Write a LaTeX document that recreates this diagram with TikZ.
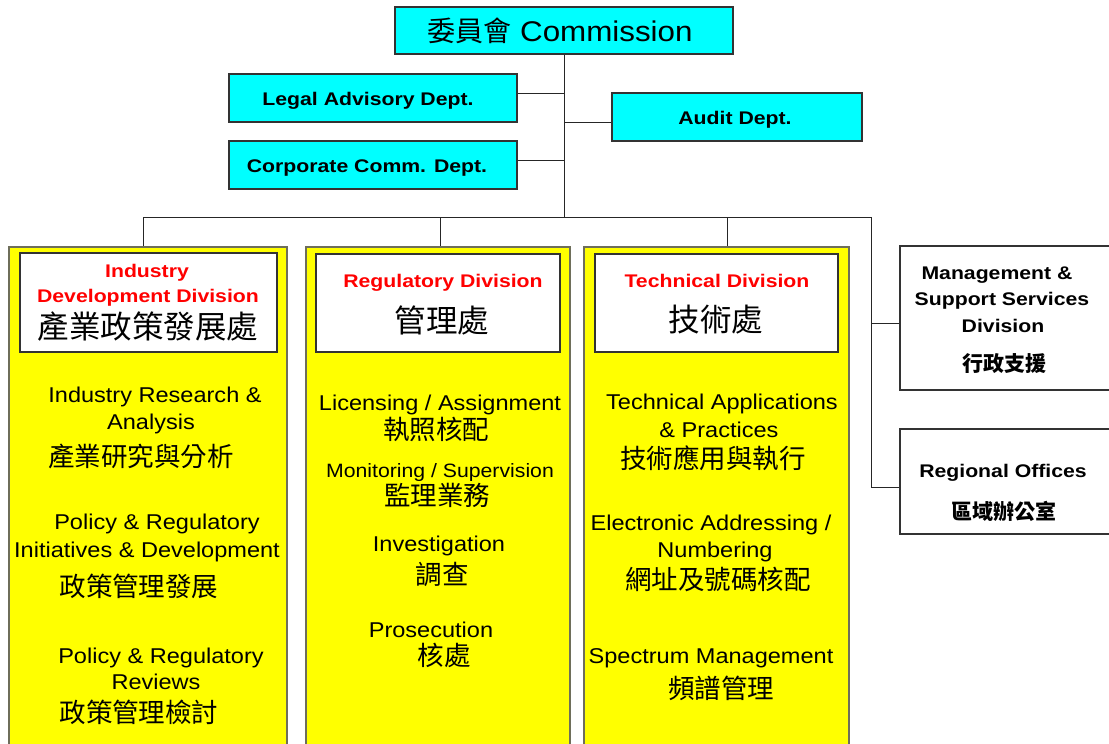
\documentclass[tikz,border=0pt]{standalone}
\usepackage{fontspec}
\setmainfont{Liberation Sans}[FakeStretch=1.1, BoldFeatures={FakeStretch=1.16}]
\newfontfamily\cjk{Noto Sans CJK TC}
\definecolor{edge}{RGB}{51,51,51}
\definecolor{ybord}{RGB}{110,110,90}
\definecolor{cy}{RGB}{0,255,255}
\definecolor{ye}{RGB}{255,255,0}
\definecolor{rd}{RGB}{255,0,0}
\begin{document}
\begin{tikzpicture}[x=1pt,y=-1pt,
  cbox/.style={draw=edge, fill=cy, line width=1.1pt, inner sep=0},
  ybox/.style={draw=ybord, fill=ye, line width=1.3pt, inner sep=0},
  wbox/.style={draw=edge, fill=white, line width=1.1pt, inner sep=0},
  gbox/.style={draw=edge, fill=white, line width=1.1pt, inner sep=0},
  conn/.style={draw=black!85, line width=1pt},
  lt/.style={anchor=base, inner sep=0, font=\fontsize{21.4pt}{24pt}\selectfont},
  lts/.style={anchor=base, inner sep=0, font=\fontsize{19.3pt}{22pt}\selectfont},
  ck/.style={anchor=center, inner sep=0, font=\cjk\fontsize{26.5pt}{30pt}\selectfont},
  ckb/.style={anchor=center, inner sep=0, font=\cjk\fontsize{31.5pt}{34pt}\selectfont},
  tr/.style={anchor=base, inner sep=0, text=rd, font=\bfseries\fontsize{18.3pt}{22pt}\selectfont},
  bd/.style={anchor=base, inner sep=0, font=\bfseries\fontsize{18.3pt}{22pt}\selectfont},
  ckm/.style={anchor=center, inner sep=0, font=\cjk\bfseries\fontsize{21pt}{24pt}\selectfont}]
\clip (0,0) rectangle (1109,744);
\fill[white] (0,0) rectangle (1109,744);

% top boxes
\node[cbox, minimum width=338pt, minimum height=47pt] (comm) at (564,30.5) {};
\node[cbox, minimum width=288pt, minimum height=48pt] (legal) at (373,98) {};
\node[cbox, minimum width=288pt, minimum height=48pt] (corp) at (373,165) {};
\node[cbox, minimum width=250pt, minimum height=48pt] (audit) at (737,117) {};

% bus coordinates
\coordinate (bus) at (564,217);
\coordinate (busL) at (143,217);
\coordinate (busR) at (871,217);
\coordinate (dropR) at (440,217);
\coordinate (dropT) at (727,217);

% divisions
\node[ybox, minimum width=278pt, minimum height=553pt] (ind) at (148,523.5) {};
\node[ybox, minimum width=264pt, minimum height=553pt] (reg) at (438,523.5) {};
\node[ybox, minimum width=265pt, minimum height=553pt] (tech) at (716.5,523.5) {};
\node[wbox, minimum width=257pt, minimum height=99pt] (indh) at (148.5,302.5) {};
\node[wbox, minimum width=244pt, minimum height=98pt] (regh) at (438,303) {};
\node[wbox, minimum width=243pt, minimum height=98pt] (techh) at (716.5,303) {};
\node[gbox, minimum width=220pt, minimum height=144pt] (mgmt) at (1010,318) {};
\node[gbox, minimum width=220pt, minimum height=105pt] (regional) at (1010,481.5) {};

% connectors
\draw[conn] (comm.south) -- (bus);
\draw[conn] ([yshift=5pt]legal.east) -- ([yshift=5pt]legal.east -| bus);
\draw[conn] ([yshift=5pt]corp.east) -- ([yshift=5pt]corp.east -| bus);
\draw[conn] ([yshift=-5pt]audit.west) -- ([yshift=-5pt]audit.west -| bus);
\draw[conn] (busL) -- (busR);
\draw[conn] (busL) -- (busL |- ind.north);
\draw[conn] (dropR) -- (dropR |- reg.north);
\draw[conn] (dropT) -- (dropT |- tech.north);
\draw[conn] (busR) |- ([yshift=-5.5pt]regional.west);
\draw[conn] ([yshift=-5pt]mgmt.west) -- ([yshift=-5pt]mgmt.west -| busR);

% top texts
\node[anchor=base, inner sep=0, font=\fontsize{28.5pt}{30pt}\selectfont] (commt) at (560,41)
  {{\cjk\fontsize{28pt}{30pt}\selectfont 委員會} Commission};
\node[bd] (legalt) at (368,105) {Legal Advisory Dept.};
\node[bd] (corpt) at (367,172) {Corporate Comm. Dept.};
\node[bd] (auditt) at (735,124) {Audit Dept.};

% industry column
\node[tr] (it1) at (147,277) {Industry};
\node[tr] (it2) at (148,302) {Development Division};
\node[ckb] (it3) at (148,327) {產業政策發展處};
\node[lt] (i1a) at (155,402) {Industry Research \&};
\node[lt] (i1b) at (151,429) {Analysis};
\node[ck] (i1c) at (141,456.5) {產業研究與分析};
\node[lt] (i2a) at (157,529) {Policy \& Regulatory};
\node[lt] (i2b) at (147,557) {Initiatives \& Development};
\node[ck] (i2c) at (139,586.5) {政策管理發展};
\node[lt] (i3a) at (161,663) {Policy \& Regulatory};
\node[lt] (i3b) at (156,689) {Reviews};
\node[ck] (i3c) at (139,712.5) {政策管理檢討};

% regulatory column
\node[tr] (rt1) at (443,287) {Regulatory Division};
\node[ckb] (rt2) at (442,320) {管理處};
\node[lt] (r1a) at (440,410) {Licensing / Assignment};
\node[ck] (r1b) at (436,429) {執照核配};
\node[lts] (r2a) at (440,477) {Monitoring / Supervision};
\node[ck] (r2b) at (437,495.5) {監理業務};
\node[lt] (r3a) at (439,551) {Investigation};
\node[ck] (r3b) at (442,574) {調查};
\node[lt] (r4a) at (431,637) {Prosecution};
\node[ck] (r4b) at (444,655.5) {核處};

% technical column
\node[tr] (tt1) at (717,287) {Technical Division};
\node[ckb] (tt2) at (716,320) {技術處};
\node[lt] (t1a) at (722,409) {Technical Applications};
\node[lt] (t1b) at (719,437) {\& Practices};
\node[ck] (t1c) at (713,458) {技術應用與執行};
\node[lt] (t2a) at (711,530) {Electronic Addressing /};
\node[lt] (t2b) at (715,557) {Numbering};
\node[ck] (t2c) at (718,579) {網址及號碼核配};
\node[lt] (t3a) at (711,663) {Spectrum Management};
\node[ck] (t3b) at (721,688) {頻譜管理};

% right boxes
\node[bd] (m1) at (997,279) {Management \&};
\node[bd] (m2) at (1002,305) {Support Services};
\node[bd] (m3) at (1003,332) {Division};
\node[ckm] (m4) at (1004,364) {行政支援};
\node[bd] (g1) at (1003,477) {Regional Offices};
\node[ckm] (g2) at (1004,511) {區域辦公室};
\end{tikzpicture}
\end{document}
